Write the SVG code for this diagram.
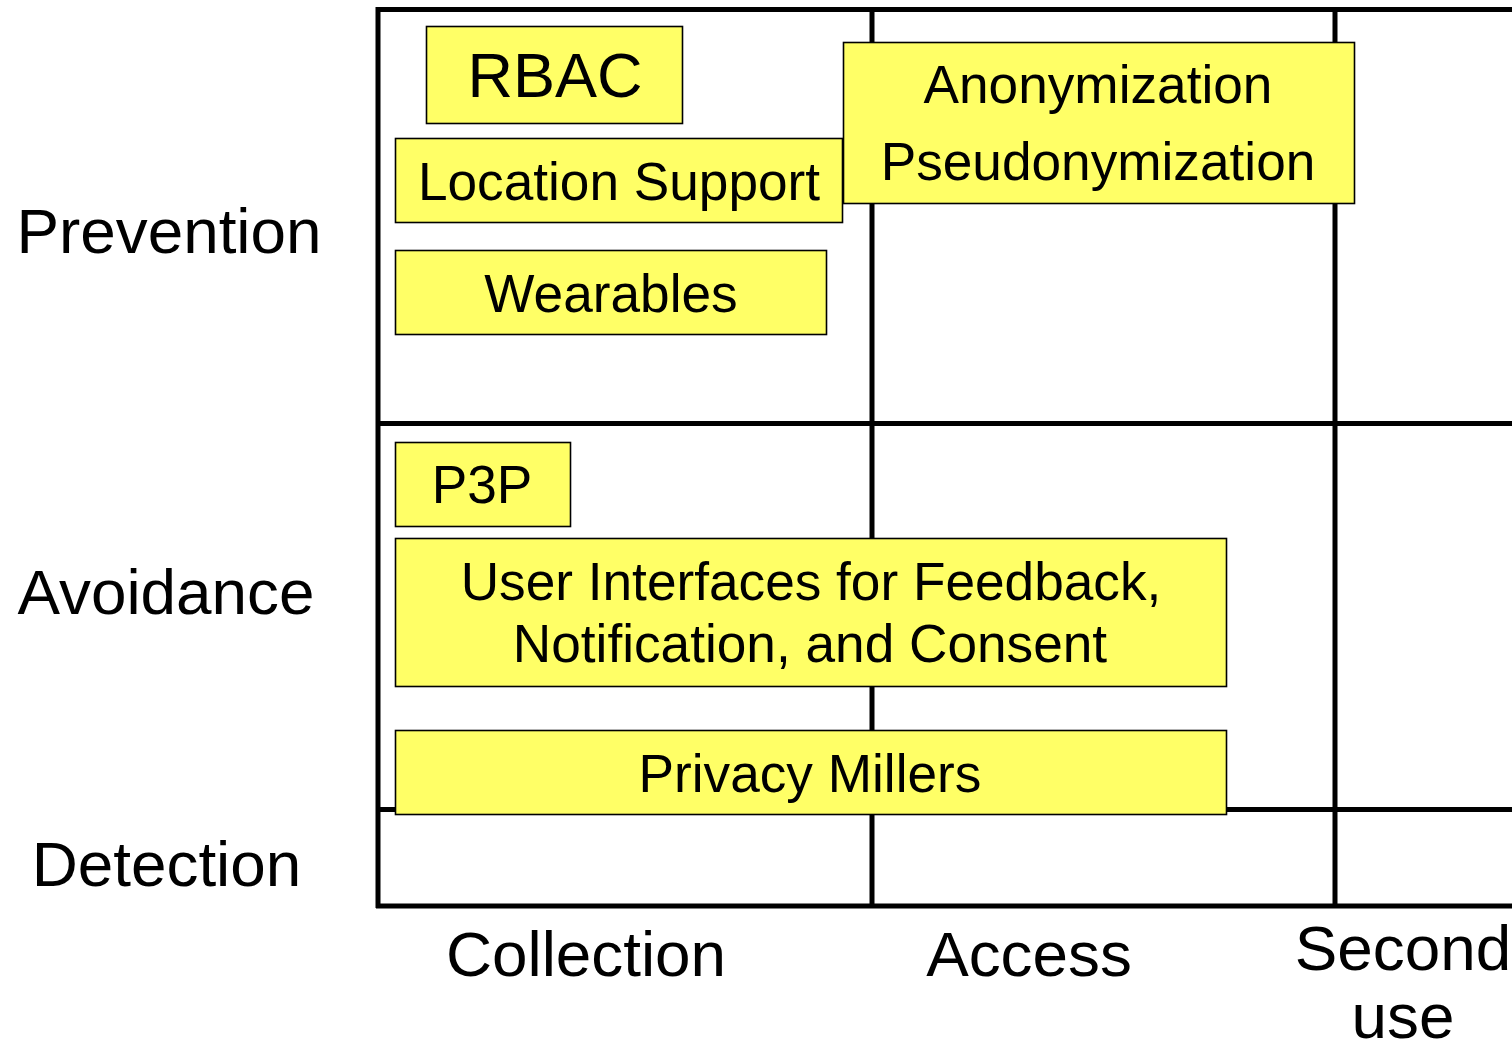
<svg xmlns="http://www.w3.org/2000/svg" width="1512" height="1041" viewBox="0 0 1512 1041">
<style>
.grid{stroke:#000;stroke-width:5;fill:none}
.box{fill:#FFFF66;stroke:#000;stroke-width:1.6}
.t{font-family:"Liberation Sans",Arial,sans-serif;fill:#000;text-anchor:middle}
.lab{font-size:63.8px}
.rb{font-size:63px}
.bt{font-size:53.2px}
</style>
<rect width="1512" height="1041" fill="#fff"/>
<g id="grid">
<line class="grid" x1="376" y1="9.5" x2="1512" y2="9.5"/>
<line class="grid" x1="378" y1="7" x2="378" y2="908"/>
<line class="grid" x1="872" y1="9" x2="872" y2="906"/>
<line class="grid" x1="1335" y1="9" x2="1335" y2="906"/>
<line class="grid" x1="378" y1="423.5" x2="1512" y2="423.5"/>
<line class="grid" x1="378" y1="809.5" x2="1512" y2="809.5"/>
<line class="grid" x1="376" y1="906" x2="1512" y2="906"/>
</g>
<g id="labels">
<text class="t lab" x="169" y="253">Prevention</text>
<text class="t lab" x="166" y="614">Avoidance</text>
<text class="t lab" x="166.5" y="886">Detection</text>
<text class="t lab" x="586" y="976">Collection</text>
<text class="t lab" x="1029" y="976">Access</text>
<text class="t lab" x="1403" y="970">Second</text>
<text class="t lab" x="1403" y="1038">use</text>
</g>
<g id="rbac">
<rect class="box" x="426.5" y="26.5" width="256" height="97"/>
<text class="t rb" x="555" y="97">RBAC</text>
</g>
<g id="location-support">
<rect class="box" x="395.5" y="138.5" width="447" height="84"/>
<text class="t bt" x="619" y="200">Location Support</text>
</g>
<g id="wearables">
<rect class="box" x="395.5" y="250.5" width="431" height="84"/>
<text class="t bt" x="611" y="312">Wearables</text>
</g>
<g id="anonymization">
<rect class="box" x="843.5" y="42.5" width="511" height="161"/>
<text class="t bt" x="1098" y="103">Anonymization</text>
<text class="t bt" x="1098" y="180">Pseudonymization</text>
</g>
<g id="p3p">
<rect class="box" x="395.5" y="442.5" width="175" height="84"/>
<text class="t bt" x="482" y="503">P3P</text>
</g>
<g id="user-interfaces">
<rect class="box" x="395.5" y="538.5" width="831" height="148"/>
<text class="t bt" x="811" y="600">User Interfaces for Feedback,</text>
<text class="t bt" x="810" y="662">Notification, and Consent</text>
</g>
<g id="privacy-millers">
<rect class="box" x="395.5" y="730.5" width="831" height="84"/>
<text class="t bt" x="810" y="792">Privacy Millers</text>
</g>
<g id="connectors"></g>
</svg>
